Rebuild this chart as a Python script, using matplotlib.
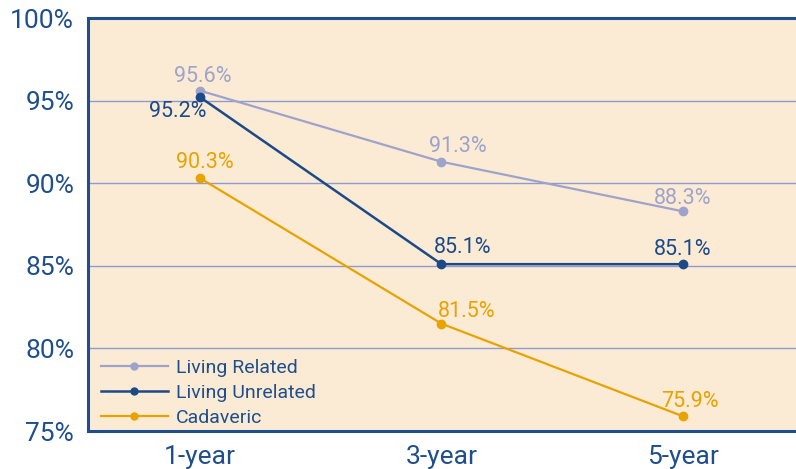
import matplotlib
matplotlib.use("Agg")
import matplotlib.pyplot as plt

categories = ["1-year", "3-year", "5-year"]
living_related = [95.6, 91.3, 88.3]
living_unrelated = [95.2, 85.1, 85.1]
cadaveric = [90.3, 81.5, 75.9]
yticks = [75, 80, 85, 90, 95, 100]
ytick_labels = ["75%", "80%", "85%", "90%", "95%", "100%"]

c_rel = "#9EA3CC"
c_unrel = "#1C4A88"
c_cad = "#E8A300"
bg = "#FBEBD5"
dark = "#1F4E8C"
grid_c = "#8E9AD0"

plt.rcParams['font.family'] = ['Roboto', 'DejaVu Sans']

fig = plt.figure(figsize=(7.96, 4.69), dpi=100)
ax = fig.add_axes([0.1106, 0.081, 0.8894, 0.8806])
ax.set_facecolor(bg)

x = list(range(len(categories)))
ax.plot(x, living_related, color=c_rel, lw=1.6, marker='o', ms=6, label="Living Related", zorder=3)
ax.plot(x, living_unrelated, color=c_unrel, lw=1.8, marker='o', ms=6, label="Living Unrelated", zorder=4)
ax.plot(x, cadaveric, color=c_cad, lw=1.6, marker='o', ms=6, label="Cadaveric", zorder=3)

ax.set_xlim(-0.465, 2.47)
ax.set_ylim(75, 100)
ax.set_yticks(yticks)
ax.set_yticklabels(ytick_labels)
ax.set_xticks(x)
ax.set_xticklabels(categories)
ax.tick_params(axis='both', length=0, labelcolor=dark)
ax.tick_params(axis='y', pad=10, labelsize=19)
ax.tick_params(axis='x', pad=10, labelsize=19)

for yv in yticks[1:-1]:
    ax.axhline(yv, color=grid_c, lw=1.0, zorder=1)

for s in ['left', 'top', 'bottom']:
    ax.spines[s].set_color(dark)
    ax.spines[s].set_linewidth(2.2)
ax.spines['right'].set_visible(False)

def lab(xi, yi, txt, color, dx, dy):
    ax.annotate(txt, (xi, yi), xytext=(dx, dy), textcoords='offset points',
                ha='center', va='center', color=color, fontsize=15.5)

fmt = lambda v: f"{v:.1f}%"
lab(0, living_related[0], fmt(living_related[0]), c_rel, 2, 10)
lab(0, living_unrelated[0], fmt(living_unrelated[0]), c_unrel, -16, -10)
lab(0, cadaveric[0], fmt(cadaveric[0]), c_cad, 3.5, 11)
lab(1, living_related[1], fmt(living_related[1]), c_rel, 11.5, 11)
lab(1, living_unrelated[1], fmt(living_unrelated[1]), c_unrel, 15, 12)
lab(1, cadaveric[1], fmt(cadaveric[1]), c_cad, 18, 9)
lab(2, living_related[2], fmt(living_related[2]), c_rel, 0, 9)
lab(2, living_unrelated[2], fmt(living_unrelated[2]), c_unrel, 0, 10.5)
lab(2, cadaveric[2], fmt(cadaveric[2]), c_cad, 5, 10.5)

leg = ax.legend(loc='lower left', bbox_to_anchor=(0.0127, 0.0), frameon=False,
                fontsize=14, handlelength=3.45, handletextpad=0.41,
                labelspacing=0.36, borderaxespad=0.0, borderpad=0.2)
for t in leg.get_texts():
    t.set_color(dark)
for h in leg.legend_handles:
    h.set_markersize(5)

fig.savefig("out.png", dpi=100)
